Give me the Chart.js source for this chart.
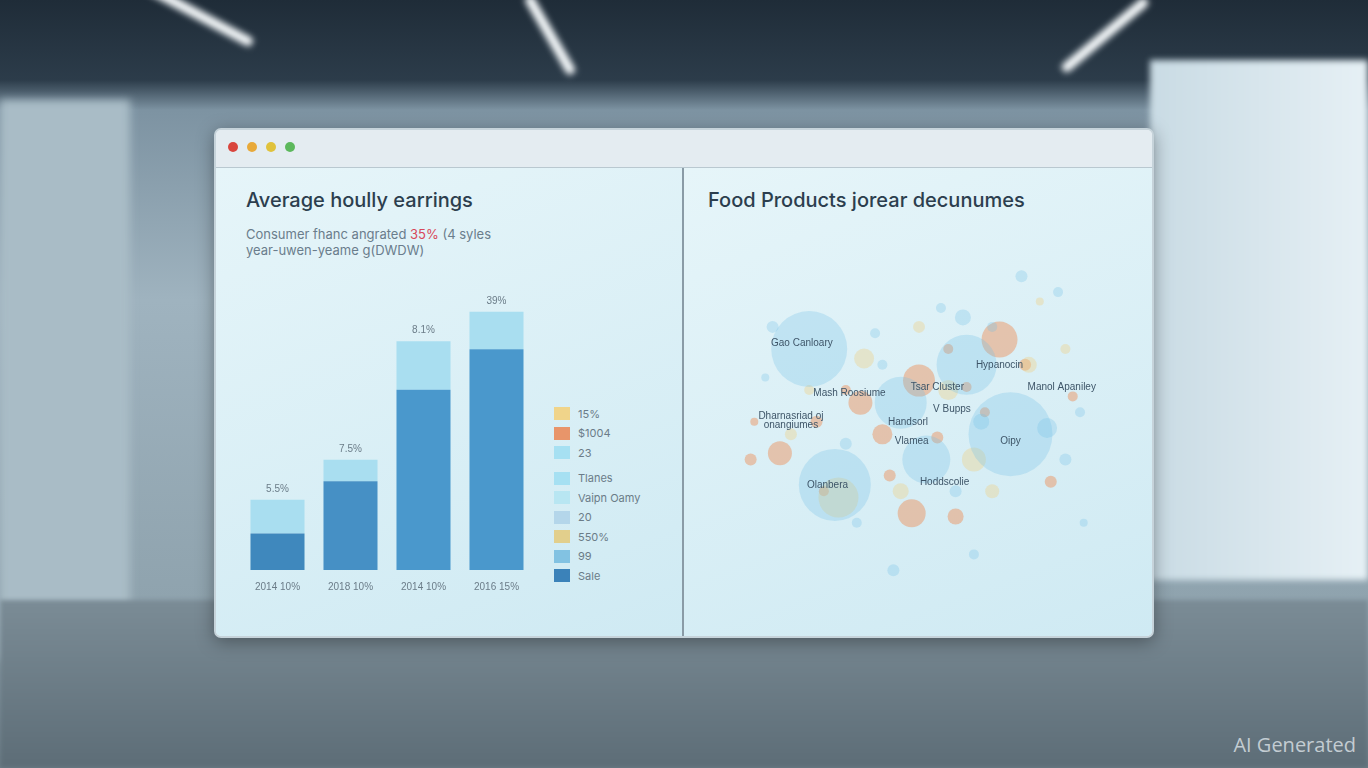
<!DOCTYPE html>
<html>
<head>
<meta charset="utf-8">
<script src="https://cdn.jsdelivr.net/npm/chart.js@4/dist/chart.umd.min.js"></script>
<style>
html,body{margin:0;padding:0;width:1368px;height:768px;overflow:hidden;font-family:"Inter","Noto Sans",sans-serif;}
#bg{position:absolute;left:0;top:0;width:1368px;height:768px;
 background:linear-gradient(180deg,#1f2c38 0px,#2c3c4a 80px,#7d93a2 110px,#9fb3bf 300px,#8fa3ae 600px,#6f808a 768px);}
.lamp{position:absolute;height:10px;background:#f4f8fa;border-radius:5px;filter:blur(3px);}
#wall{position:absolute;left:0;top:100px;width:130px;height:560px;background:#a9bcc6;filter:blur(4px);}
#win{position:absolute;left:1150px;top:60px;width:218px;height:520px;background:linear-gradient(90deg,#c9dbe4,#e6f0f5);filter:blur(3px);}
#floor{position:absolute;left:0;top:600px;width:1368px;height:168px;background:linear-gradient(180deg,#7b8c96,#5d6d77);filter:blur(2px);}
#frame{position:absolute;left:214px;top:128px;width:936px;height:506px;border-radius:7px;background:#e9f1f5;border:2px solid #c6d3da;box-shadow:0 4px 18px rgba(0,0,0,0.35);overflow:hidden;}
#bar{position:absolute;left:0;top:0;width:936px;height:37px;background:#e4ecf1;border-bottom:1px solid #b9c8d0;}
.dot{position:absolute;top:12px;width:10px;height:10px;border-radius:5px;}
.panel{position:absolute;top:38px;height:468px;background:linear-gradient(160deg,#e6f5f9,#cfeaf3);}
#left{left:0;width:466px;border-right:2px solid #8a9ba6;}
#right{left:468px;width:468px;}
h1{position:absolute;margin:0;font-weight:500;font-size:20px;color:#2c3e4e;}
#sub{position:absolute;left:30px;top:58px;font-size:13px;color:#6a7d8c;line-height:16px;}
#legend{position:absolute;left:338px;top:236px;font-size:11px;color:#6b7c88;}
.li{height:19.5px;display:flex;align-items:center;}
.sw{width:16px;height:13px;margin-right:8px;}
#ai{position:absolute;right:12px;bottom:10px;font-size:20px;color:#c3ccd2;font-family:"Open Sans",sans-serif;}
</style>
</head>
<body>
<div id="bg"></div>
<div class="lamp" style="left:130px;top:8px;width:130px;transform:rotate(28deg)"></div>
<div class="lamp" style="left:505px;top:30px;width:90px;transform:rotate(60deg)"></div>
<div class="lamp" style="left:1050px;top:30px;width:110px;transform:rotate(-40deg)"></div>
<div id="wall"></div>
<div id="win"></div>
<div id="floor"></div>
<div id="frame">
  <div id="bar">
    <div class="dot" style="left:12px;background:#d9453d"></div>
    <div class="dot" style="left:31px;background:#e8a93a"></div>
    <div class="dot" style="left:50px;background:#e0c23c"></div>
    <div class="dot" style="left:69px;background:#5cb85c"></div>
  </div>
  <div class="panel" id="left">
    <h1 style="left:30px;top:20px">Average hoully earrings</h1>
    <div id="sub">Consumer fhanc angrated <span style="color:#d8485a">35%</span> (4 syles<br>year-uwen-yeame g(DWDW)</div>
    <canvas id="barChart" style="position:absolute;left:25px;top:110px;width:292px;height:318px"></canvas>
    <div id="legend"></div>
  </div>
  <div class="panel" id="right">
    <h1 style="left:24px;top:20px">Food Products jorear decunumes</h1>
    <canvas id="bubbleChart" style="position:absolute;left:10px;top:60px;width:450px;height:400px"></canvas>
  </div>
</div>
<div id="ai">AI Generated</div>
<script>
// stacked bars (left panel)
const years = ['2014 10%', '2018 10%', '2014 10%', '2016 15%'];
const baseValues = [13.6, 33, 67, 82];
const topValues = [12.5, 8, 18, 14];
const barLabels = ['5.5%', '7.5%', '8.1%', '39%'];

const legendNames = ['15%', '$1004', '23', 'Tlanes', 'Vaipn Oamy', '20', '550%', '99', 'Sale'];
const legendColors = ['#f0d48a', '#e8956a', '#a6e0f2', '#a6e0f2', '#b8e6f2', '#b4d6ea', '#e2cf8c', '#82c2e2', '#3b82b9'];

// bubbles (right panel): x, y, radius
const blueBubbles = [[20,75,38],[75,48,42],[27,32,36],[63,70,30],[45,58,26],[52,40,24],[62,85,8],[78,98,6],[88,93,5],[10,82,6],[38,80,5],[56,88,5],[70,82,5],[8,66,4],[94,55,5],[90,40,6],[60,30,6],[33,20,5],[43,5,6],[65,10,5],[95,20,4],[85,50,10],[30,45,6],[40,70,5],[67,52,8]];
const orangeBubbles = [[72,78,18],[50,65,16],[12,42,12],[34,58,12],[40,48,10],[48,23,14],[60,22,8],[5,52,4],[4,40,6],[79,70,6],[22,52,6],[86,33,6],[92,60,5],[68,55,5],[55,47,6],[42,35,6],[30,62,5],[63,63,5],[24,30,5],[58,75,5]];
const yellowBubbles = [[35,72,10],[58,62,10],[28,28,20],[65,40,12],[80,70,8],[50,82,6],[90,75,5],[45,30,8],[70,30,7],[15,48,6],[20,62,5],[83,90,4]];
const bubbleLabels = [
  ['Gao Canloary', 18, 76], ['Hypanocin', 72, 69], ['Mash Roosiume', 31, 60], ['Tsar Cluster', 55, 62],
  ['Manol Apaniley', 89, 62], ['V Bupps', 59, 55], ['Dharnasriad oj', 15, 53], ['onangiumes', 15, 50],
  ['Handsorl', 47, 51], ['Vlamea', 48, 45], ['Oipy', 75, 45], ['Olanbera', 25, 31], ['Hoddscolie', 57, 32]
];

const legendDiv = document.getElementById('legend');
legendNames.forEach((n, i) => {
    const row = document.createElement('div');
    row.className = 'li';
    if (i === 3) row.style.marginTop = '6px';
    row.innerHTML = '<div class="sw" style="background:' + legendColors[i] + '"></div>' + n;
    legendDiv.appendChild(row);
});

const topLabelPlugin = {
    id: 'topLabels',
    afterDatasetsDraw(chart) {
        const ctx = chart.ctx;
        const meta = chart.getDatasetMeta(1);
        ctx.save();
        ctx.font = '10px "Liberation Sans"';
        ctx.fillStyle = '#6b7c88';
        ctx.textAlign = 'center';
        meta.data.forEach((bar, i) => ctx.fillText(barLabels[i], bar.x, bar.y - 8));
        ctx.restore();
    }
};

new Chart(document.getElementById('barChart'), {
    type: 'bar',
    data: {
        labels: years,
        datasets: [
            { data: baseValues, backgroundColor: ['#3f88bd', '#4690c5', '#4a98cc', '#4a98cc'] },
            { data: topValues, backgroundColor: '#a9def0' }
        ]
    },
    options: {
        responsive: false, animation: false,
        plugins: { legend: { display: false }, tooltip: { enabled: false } },
        datasets: { bar: { categoryPercentage: 0.74, barPercentage: 1 } },
        scales: {
            x: { stacked: true, grid: { display: false }, border: { display: false },
                 ticks: { color: '#6b7c88', font: { size: 10, family: 'Liberation Sans' } } },
            y: { stacked: true, min: 0, max: 108.5, display: false }
        }
    },
    plugins: [topLabelPlugin]
});

const labelPlugin = {
    id: 'bubbleLabels',
    afterDatasetsDraw(chart) {
        const ctx = chart.ctx;
        ctx.save();
        ctx.font = '10px "Liberation Sans"';
        ctx.fillStyle = '#3e5568';
        ctx.textAlign = 'center';
        bubbleLabels.forEach(l => {
            ctx.fillText(l[0], chart.scales.x.getPixelForValue(l[1]), chart.scales.y.getPixelForValue(l[2]));
        });
        ctx.restore();
    }
};

const toPts = arr => arr.map(b => ({ x: b[0], y: b[1], r: b[2] }));
new Chart(document.getElementById('bubbleChart'), {
    type: 'bubble',
    data: {
        datasets: [
            { data: toPts(blueBubbles), backgroundColor: 'rgba(110,190,230,0.28)', borderWidth: 0 },
            { data: toPts(yellowBubbles), backgroundColor: 'rgba(238,210,140,0.4)', borderWidth: 0 },
            { data: toPts(orangeBubbles), backgroundColor: 'rgba(236,150,100,0.5)', borderWidth: 0 }
        ]
    },
    options: {
        responsive: false, animation: false,
        plugins: { legend: { display: false }, tooltip: { enabled: false } },
        scales: { x: { min: 0, max: 100, display: false }, y: { min: 0, max: 100, display: false } }
    },
    plugins: [labelPlugin]
});
</script>
</body>
</html>
